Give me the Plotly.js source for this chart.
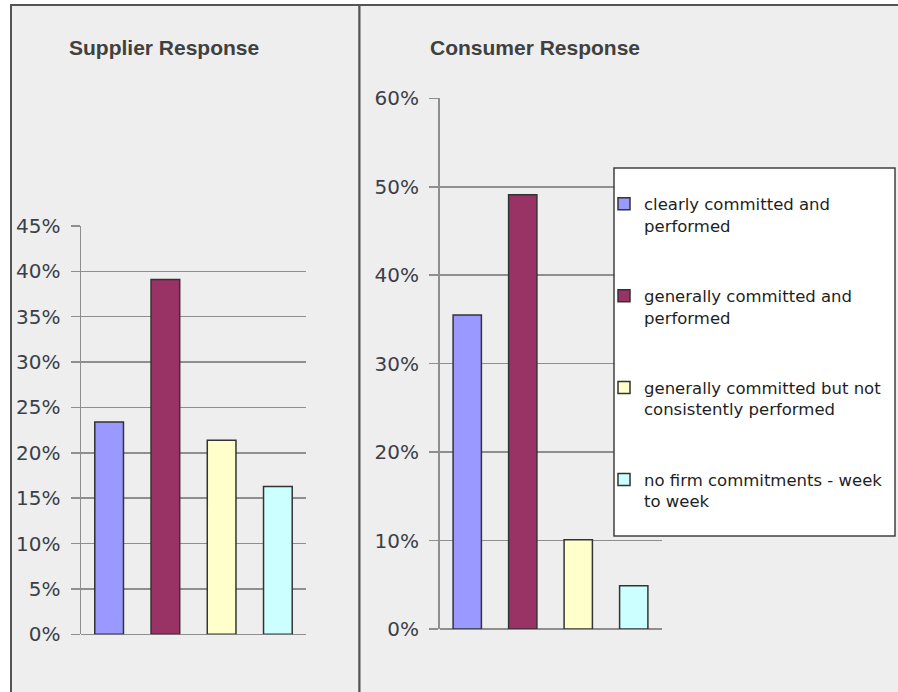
<!DOCTYPE html>
<html>
<head>
<meta charset="utf-8">
<script src="https://cdn.plot.ly/plotly-3.0.1.min.js"></script>
<style>html,body{margin:0;padding:0;background:#fff;}#chart{width:898px;height:692px;}</style>
</head>
<body>
<div id="chart"></div>
<script>
// ---- data ----
var categories = [
  "clearly committed and performed",
  "generally committed and performed",
  "generally committed but not consistently performed",
  "no firm commitments - week to week"
];
var legendLabels = [
  "clearly committed and<br>performed",
  "generally committed and<br>performed",
  "generally committed but not<br>consistently performed",
  "no firm commitments - week<br>to week"
];
var supplierPct = [23.4, 39.1, 21.4, 16.3];
var consumerPct = [35.5, 49.1, 10.1, 4.9];
var barColors = ["#9999ff", "#993366", "#ffffcc", "#ccffff"];
var panelTitles = ["Supplier Response", "Consumer Response"];

// ---- geometry helpers (pixel -> paper) ----
var W = 898, H = 692;
function px(x){ return x / W; }
function py(y){ return 1 - y / H; }

var traces = [];
for (var i = 0; i < categories.length; i++) {
  traces.push({
    type: "bar", x: [categories[i]], y: [supplierPct[i]],
    xaxis: "x", yaxis: "y", name: legendLabels[i], legendgroup: "g" + i,
    showlegend: false, width: 0.51,
    marker: {color: barColors[i], line: {color: "#333333", width: 1.5}},
    hoverinfo: "skip"
  });
}
for (var j = 0; j < categories.length; j++) {
  traces.push({
    type: "bar", x: [categories[j]], y: [consumerPct[j]],
    xaxis: "x2", yaxis: "y2", name: legendLabels[j], legendgroup: "g" + j,
    showlegend: true, width: 0.51,
    marker: {color: barColors[j], line: {color: "#333333", width: 1.5}},
    hoverinfo: "skip"
  });
}

var gridCol = "#8e8e8e";
var tickFont = {family: "DejaVu Sans", size: 20, color: "#3b3f47"};
function xAxis(dom){
  return {domain: dom, type: "category", categoryorder: "array", categoryarray: categories,
    range: [-0.5, 3.5], showticklabels: false, showgrid: false, zeroline: false,
    showline: false, ticks: "", fixedrange: true};
}
function yAxis(dom, maxV, step, anchor){
  return {domain: dom, anchor: anchor, range: [0, maxV], dtick: step, tick0: 0, ticksuffix: "%",
    showgrid: true, gridcolor: gridCol, gridwidth: 1.5,
    zeroline: true, zerolinecolor: gridCol, zerolinewidth: 1.5,
    showline: true, linecolor: gridCol, linewidth: 1.5,
    ticks: "outside", ticklen: 9, tickcolor: gridCol, tickwidth: 1.5,
    ticklabelstandoff: 6, tickfont: tickFont, fixedrange: true};
}

var layout = {
  width: W, height: H, autosize: false,
  margin: {l: 0, r: 0, t: 0, b: 0, pad: 0},
  paper_bgcolor: "#ffffff", plot_bgcolor: "rgba(0,0,0,0)",
  barmode: "overlay", showlegend: true,
  xaxis: xAxis([px(81), px(306)]),
  yaxis: yAxis([py(634.3), py(226)], 45, 5, "x"),
  xaxis2: xAxis([px(439.5), px(661.5)]),
  yaxis2: yAxis([py(629), py(98.3)], 60, 10, "x2"),
  legend: {
    x: px(604), xanchor: "left", y: py(186.5), yanchor: "top",
    bgcolor: "rgba(0,0,0,0)", borderwidth: 0,
    traceorder: "grouped", tracegroupgap: 46, valign: "top",
    font: {family: "DejaVu Sans", size: 16.5, color: "#1e1e1e"}
  },
  shapes: [
    {type: "rect", xref: "paper", yref: "paper", layer: "below",
     x0: px(11), x1: px(359.5), y0: -0.05, y1: py(5),
     fillcolor: "#eeeeee", line: {color: "#555555", width: 2}},
    {type: "rect", xref: "paper", yref: "paper", layer: "below",
     x0: px(359.5), x1: 1.05, y0: -0.05, y1: py(5),
     fillcolor: "#eeeeee", line: {color: "#555555", width: 2}},
    {type: "rect", xref: "paper", yref: "paper", layer: "above",
     x0: px(614), x1: px(895), y0: py(536), y1: py(168),
     fillcolor: "#ffffff", line: {color: "#404040", width: 1.5}}
  ],
  annotations: [
    {text: panelTitles[0], xref: "paper", yref: "paper", x: px(67), y: py(48),
     xanchor: "left", yanchor: "middle", showarrow: false,
     font: {family: "Liberation Sans", size: 21, color: "#404040", weight: "bold"}},
    {text: panelTitles[1], xref: "paper", yref: "paper", x: px(428), y: py(48),
     xanchor: "left", yanchor: "middle", showarrow: false,
     font: {family: "Liberation Sans", size: 21, color: "#404040", weight: "bold"}}
  ]
};

Plotly.newPlot("chart", traces, layout, {displayModeBar: false, staticPlot: true});
</script>
</body>
</html>
